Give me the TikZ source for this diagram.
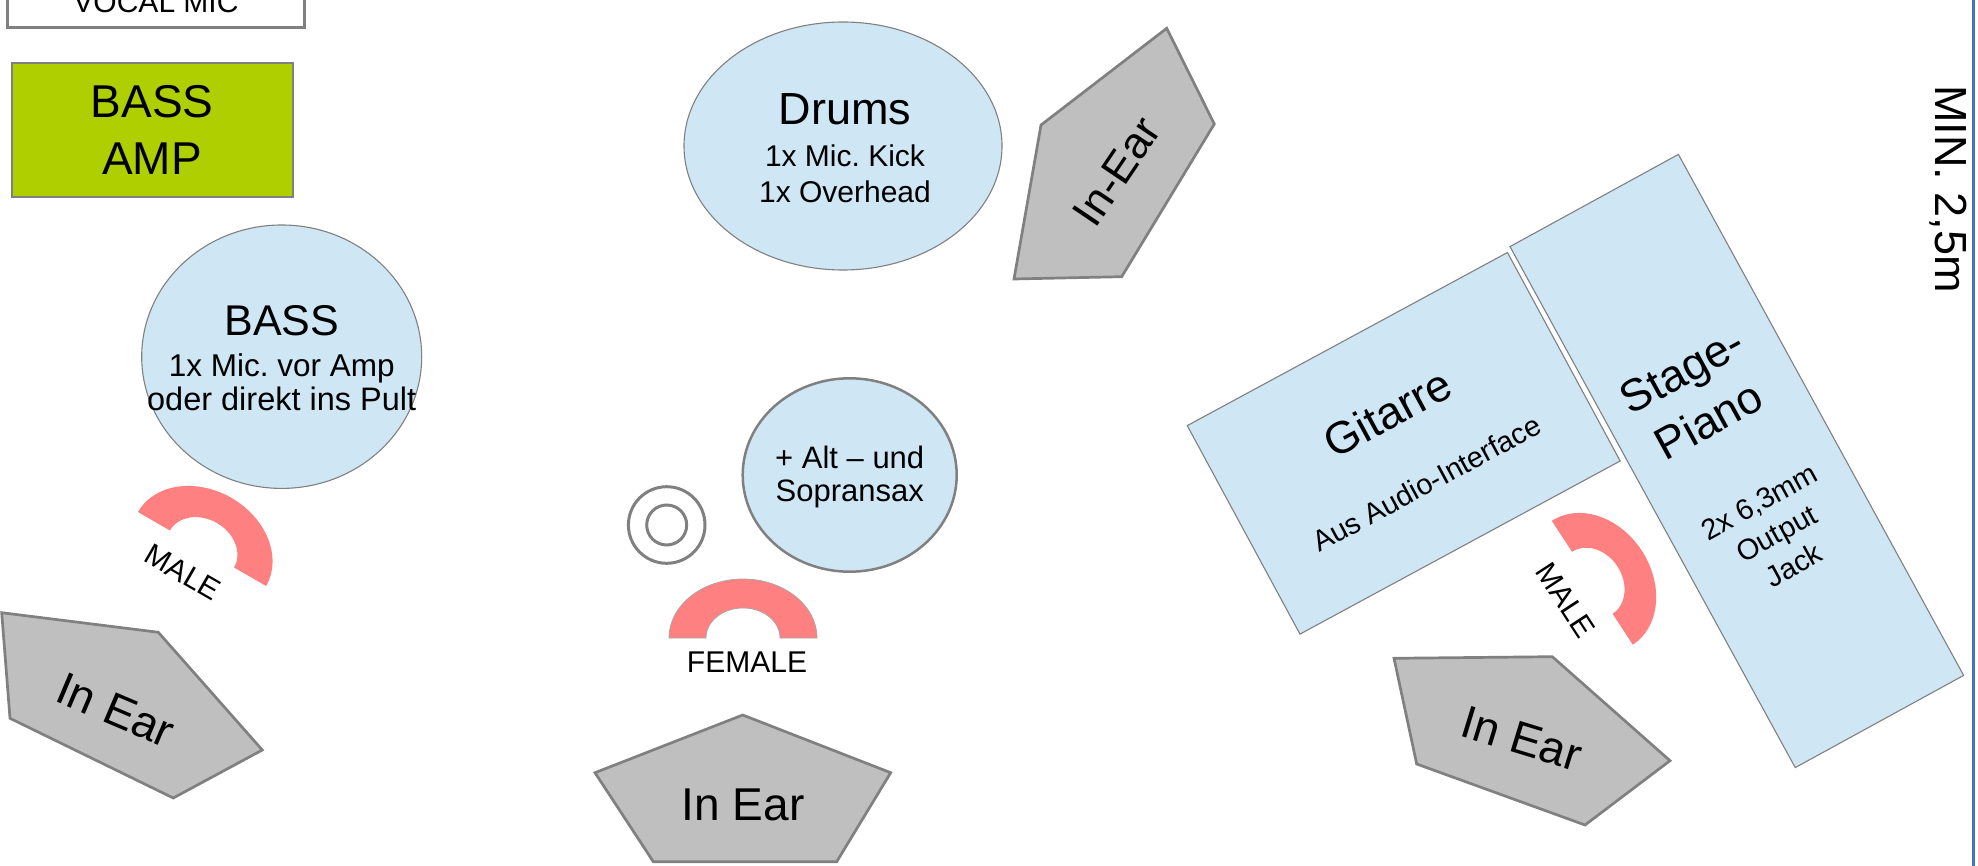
\documentclass[tikz,border=0pt]{standalone}
\usepackage{fontspec}
\setmainfont{Liberation Sans}
\frenchspacing
\definecolor{fillblue}{RGB}{207,230,244}
\definecolor{eargray}{RGB}{191,191,191}
\definecolor{strokegray}{RGB}{128,128,128}
\definecolor{jackred}{RGB}{255,128,128}
\definecolor{ampgreen}{RGB}{175,207,0}
\definecolor{edgeblue}{RGB}{68,114,196}
\tikzset{
  txt/.style={inner sep=0pt, text=black},
  bluebody/.style={fill=fillblue, draw=strokegray, line width=1.1pt},
  earbody/.style={fill=eargray, draw=strokegray, line width=2.7pt, line join=miter},
  jack/.pic={\path[fill=jackred, pic actions] plot[domain=0:180,samples=61,variable=\t] ({74*cos(\t)},{-59*sin(\t)})
      -- plot[domain=180:0,samples=61,variable=\t] ({37*cos(\t)},{-30*sin(\t)}) -- cycle;},
}
\newcommand{\fsz}[1]{\fontsize{#1}{#1}\selectfont}
\begin{document}
\begin{tikzpicture}[x=1pt,y=-1pt]
\useasboundingbox (0,0) rectangle (1978,866);
% VOCAL MIC
\draw[line width=3pt, draw=strokegray, fill=white] (7,-40) rectangle (304,28);
\node[txt, anchor=base, font=\fsz{30}] (vocal) at (156,12.7) {VOCAL MIC};
% BASS AMP
\draw[fill=ampgreen, draw=strokegray, line width=2pt] (11.7,63) rectangle (292.7,197);
\node[txt, anchor=base, font=\fsz{46}] (amp1) at (152,118) {BASS};
\node[txt, anchor=base, font=\fsz{46}] (amp2) at (152,175) {AMP};
% BASS circle
\draw[bluebody] (281.7,356.7) ellipse [x radius=140, y radius=131.7];
\node[txt, anchor=base, font=\fsz{43}] (bass1) at (281.7,336) {BASS};
\node[txt, anchor=base, font=\fsz{31.5}] (bass2) at (281.7,376.7) {1x Mic. vor Amp};
\node[txt, anchor=base, font=\fsz{32.5}] (bass3) at (281.7,410) {oder direkt ins Pult};
% Drums
\draw[bluebody] (843,146) ellipse [x radius=159, y radius=124];
\node[txt, anchor=base, font=\fsz{45}] (dr1) at (845,125) {Drums};
\node[txt, anchor=base, font=\fsz{30}] (dr2) at (845,166.7) {1x Mic. Kick};
\node[txt, anchor=base, font=\fsz{30}] (dr3) at (845,202.7) {1x Overhead};
% Sax
\draw[fill=fillblue, draw=strokegray, line width=2.5pt] (849.7,475) ellipse [x radius=107, y radius=96.7];
\node[txt, anchor=base, font=\fsz{31}] (sax1) at (849.7,468.3) {+ Alt – und};
\node[txt, anchor=base, font=\fsz{31}] (sax2) at (849.7,501.7) {Sopransax};
% concentric mic
\draw[draw=strokegray, line width=3pt] (666.7,525) circle [radius=38.3];
\draw[draw=strokegray, line width=3pt] (666.7,525) circle [radius=20];
% jacks
\pic[draw=strokegray!70, line width=0.7pt] at (743,638) {jack};
\node[txt, anchor=base, font=\fsz{30}] (fem) at (747,672.7) {FEMALE};
\begin{scope}[shift={(202,549)}, rotate=-30]
  \pic[transform shape] at (0,0) {jack};
  \node[txt, anchor=base, font=\fsz{30}, transform shape] (male1) at (-5,40) {MALE};
\end{scope}
\begin{scope}[shift={(1592.3,582.8)}, rotate=-56.8]
  \pic[transform shape] at (0,0) {jack};
  \node[txt, anchor=base, font=\fsz{30}, transform shape] (male2) at (0,42) {MALE};
\end{scope}
% In-Ear monitors
\draw[earbody] (1.7,612.7) -- (158.3,632.3) -- (262.3,750) -- (173.3,798) -- (10,718.3) -- cycle;
\node[txt, rotate=-23, font=\fsz{46}] (ear1) at (115.7,710.3) {In Ear};
\draw[earbody] (742.7,715) -- (890.7,772.7) -- (836.7,861.7) -- (653.3,861.7) -- (595,772.7) -- cycle;
\node[txt, font=\fsz{46}] (ear2) at (743,805) {In Ear};
\draw[earbody] (1394,658.3) -- (1552.3,656.7) -- (1670,760.7) -- (1585,825) -- (1416.7,764) -- cycle;
\node[txt, rotate=-17, font=\fsz{46}] (ear3) at (1521.7,739) {In Ear};
\draw[earbody] (1166.7,28.3) -- (1214.3,124) -- (1121.7,276.7) -- (1014,279) -- (1041,125) -- cycle;
\node[txt, rotate=56, font=\fsz{44}] (ear4) at (1116.7,171.7) {In-Ear};
% Gitarre
\begin{scope}[shift={(1403.7,443.3)}, rotate=28.4]
  \draw[bluebody] (-182,-118.5) rectangle (182,118.5);
  \node[txt, font=\fsz{45}, transform shape] (git1) at (0,-34.5) {Gitarre};
  \node[txt, font=\fsz{29}, transform shape] (git2) at (1,46) {Aus Audio-Interface};
\end{scope}
% Stage-Piano
\begin{scope}[shift={(1736.8,461)}, rotate=28.7]
  \draw[bluebody] (-96,-297) rectangle (96,297);
  \node[txt, anchor=base, font=\fsz{45}, transform shape] (pia1) at (-5,-90.4) {Stage-};
  \node[txt, anchor=base, font=\fsz{45}, transform shape] (pia2) at (-5,-33.4) {Piano};
  \node[txt, anchor=base, font=\fsz{29}, transform shape] (pia3) at (0,56.5) {2x 6,3mm};
  \node[txt, anchor=base, font=\fsz{29}, transform shape] (pia4) at (0,92.5) {Output};
  \node[txt, anchor=base, font=\fsz{29}, transform shape] (pia5) at (0,128.5) {Jack};
\end{scope}
% stage edge
\node[txt, rotate=-90, font=\fsz{45}] (minw) at (1948,189) {MIN. 2,5m};
\coordinate (edgetop) at (1973,0);
\coordinate (edgebot) at (1973,866);
\draw[edgeblue, line width=3pt] (edgetop) -- (edgebot);
\end{tikzpicture}
\end{document}
